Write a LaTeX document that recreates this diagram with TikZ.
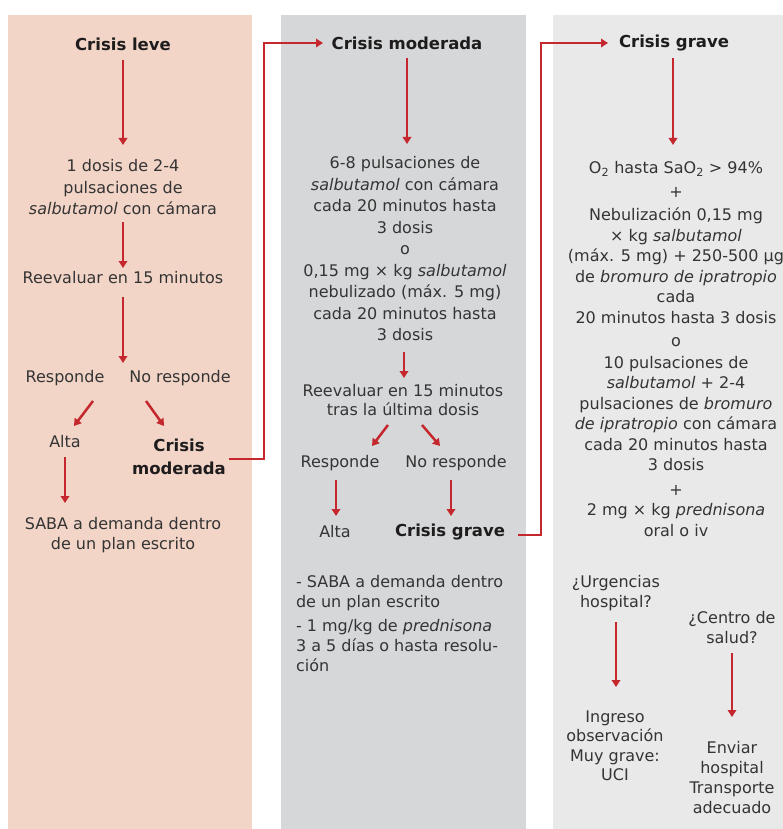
\documentclass[tikz,border=0pt]{standalone}
\usepackage{fontspec}
\setmainfont{DejaVu Sans}
\usetikzlibrary{arrows.meta}
\definecolor{peach}{RGB}{242,213,199}
\definecolor{midgray}{RGB}{214,215,217}
\definecolor{lightgray}{RGB}{233,233,234}
\definecolor{flowred}{RGB}{196,40,46}
\definecolor{txt}{RGB}{52,52,52}
\definecolor{ink}{RGB}{30,28,29}
\tikzset{
  body/.style={text=txt, font=\fontsize{16}{21.5}\selectfont, align=center, inner sep=0pt, outer sep=0pt},
  note/.style={body, font=\fontsize{16}{20}\selectfont},
  headline/.style={body, text=ink, font=\fontsize{16.5}{23}\selectfont\bfseries},
  arr/.style={draw=flowred, line width=2.5pt, -{Triangle[width=8.5pt,length=7pt]}}
}
\begin{document}
\begin{tikzpicture}[x=1pt,y=-1pt]
\useasboundingbox (0,0) rectangle (783,829);
\fill[white] (0,0) rectangle (783,829);

% column backgrounds
\fill[peach] (8,15) rectangle (252,829);
\fill[midgray] (281,15) rectangle (526,829);
\fill[lightgray] (553,15) rectangle (790,829);

% ---- mild crisis ----
\node[headline] (leve) at (123,44) {Crisis leve};
\node[body] (dosisL) at (123,187.5) {1 dosis de 2-4\\pulsaciones de\\\textit{salbutamol} con cámara};
\node[body] (reevL) at (123,278) {Reevaluar en 15 minutos};
\coordinate (forkL) at (123,363);
\node[body] (respL) at (65,378) {Responde};
\node[body] (norespL) at (180,378) {No responde};
\node[body] (altaL) at (65,442) {Alta};
\node[headline] (modL) at (179,456.5) {Crisis\\moderada};
\node[note] (sabaL) at (123,535) {SABA a demanda dentro\\de un plan escrito};

\draw[arr] ([shift={(0,16)}]leve.center) -- ([shift={(0,-42.5)}]dosisL.center);
\draw[arr] ([shift={(0,34.5)}]dosisL.center) -- ([shift={(0,-10)}]reevL.center);
\draw[arr] ([shift={(0,19)}]reevL.center) -- (forkL);
\draw[arr] ([shift={(28,23)}]respL.center) -- ([shift={(9,-16)}]altaL.center);
\draw[arr] ([shift={(-34,23)}]norespL.center) -- ([shift={(-15,-30.5)}]modL.center);
\draw[arr] ([shift={(0,15)}]altaL.center) -- ([shift={(-58,-32)}]sabaL.center);

% ---- moderate crisis ----
\node[headline] (modM) at (407,43) {Crisis moderada};
\node[body] (treatM) at (405,249) {6-8 pulsaciones de\\\textit{salbutamol} con cámara\\cada 20 minutos hasta\\3 dosis\\o\\0,15 mg × kg \textit{salbutamol}\\nebulizado (máx. 5 mg)\\cada 20 minutos hasta\\3 dosis};
\node[body, font=\fontsize{16}{19}\selectfont] (reevM) at (403,400.5) {Reevaluar en 15 minutos\\tras la última dosis};
\node[body] (respM) at (340,463) {Responde};
\node[body] (norespM) at (456,463) {No responde};
\node[body] (altaM) at (335,532) {Alta};
\node[headline] (graveM) at (450,532) {Crisis grave};
\node[note, align=left, anchor=north west] (notesM) at (296,575) {- SABA a demanda dentro\\de un plan escrito\\[4pt]- 1 mg/kg de \textit{prednisona}\\3 a 5 días o hasta resolu-\\ción};

\draw[arr] ([shift={(50,2.5)}]modL.center) -| ([shift={(-143,0)}]modM.center) -- ([shift={(-84,0)}]modM.center);
\draw[arr] ([shift={(0,15)}]modM.center) -- ([shift={(2,-105)}]treatM.center);
\draw[arr] ([shift={(-1,103)}]treatM.center) -- ([shift={(1,-22.5)}]reevM.center);
\draw[arr] ([shift={(-15,24.5)}]reevM.center) -- ([shift={(32,-17)}]respM.center);
\draw[arr] ([shift={(19,24.5)}]reevM.center) -- ([shift={(-16,-17)}]norespM.center);
\draw[arr] ([shift={(-4,17)}]respM.center) -- ([shift={(1,-16)}]altaM.center);
\draw[arr] ([shift={(-5,17)}]norespM.center) -- ([shift={(1,-16)}]graveM.center);

% ---- severe crisis ----
\node[headline] (graveR) at (674,43) {Crisis grave};
\node[body, font=\fontsize{16}{20.5}\selectfont] (treatR) at (676,349) {O\textsubscript{2} hasta SaO\textsubscript{2} > 94\%\\[3pt]
+\\[3pt]
Nebulización 0,15 mg\\
× kg \textit{salbutamol}\\
(máx. 5 mg) + 250-500 µg\\
de \textit{bromuro de ipratropio}\\
cada\\
20 minutos hasta 3 dosis\\[3pt]
o\\[1pt]
10 pulsaciones de\\
\textit{salbutamol} + 2-4\\
pulsaciones de \textit{bromuro}\\
\textit{de ipratropio} con cámara\\
cada 20 minutos hasta\\
3 dosis\\[4pt]
+\\
2 mg × kg \textit{prednisona}\\
oral o iv};
\node[note] (urgR) at (616,593) {¿Urgencias\\hospital?};
\node[note] (centroR) at (732,628) {¿Centro de\\salud?};
\node[note, font=\fontsize{16}{19.5}\selectfont] (ingresoR) at (615,746) {Ingreso\\observación\\Muy grave:\\UCI};
\node[note] (enviarR) at (732,778) {Enviar\\hospital\\Transporte\\adecuado};

\draw[arr] ([shift={(68,3)}]graveM.center) -| ([shift={(-133,0)}]graveR.center) -- ([shift={(-66,0)}]graveR.center);
\draw[arr] ([shift={(-1,15)}]graveR.center) -- ([shift={(-3,-204)}]treatR.center);
\draw[arr] ([shift={(0,29)}]urgR.center) -- ([shift={(1,-59)}]ingresoR.center);
\draw[arr] ([shift={(0,25)}]centroR.center) -- ([shift={(0,-61)}]enviarR.center);
\end{tikzpicture}
\end{document}
